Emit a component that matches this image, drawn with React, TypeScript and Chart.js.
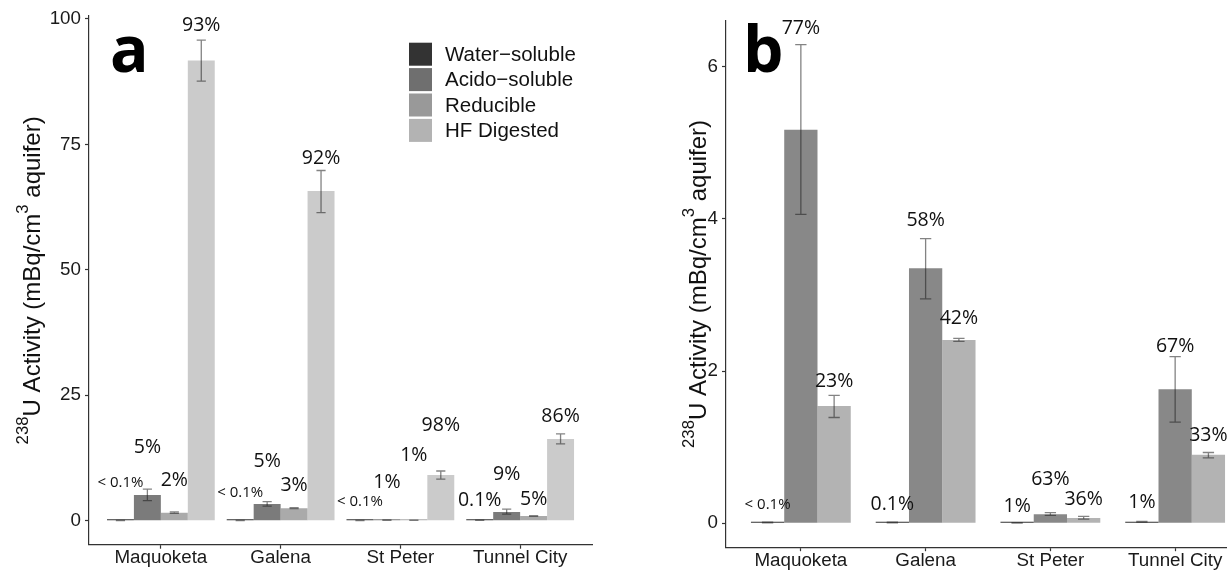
import React, { useEffect, useRef } from "react";
import { Chart, registerables } from "chart.js";
Chart.register(...registerables);

const categories = ["Maquoketa", "Galena", "St Peter", "Tunnel City"];
const fractionNames = ["Water\u2212soluble", "Acido\u2212soluble", "Reducible", "HF Digested"];
const legendColors = ["#333333", "#6f6f6f", "#999999", "#b3b3b3"];

// ---- Panel a (all four fractions) ----
const yTicksA = [0, 25, 50, 75, 100];
const yRangeA = [-4.79, 100.59];
const barColorsA = ["#333333", "#7b7b7b", "#aaaaaa", "#cbcbcb"];

const waterA = [0.05, 0.05, 0.05, 0.08];
const waterALow = [0.03, 0.03, 0.03, 0.05];
const waterAHigh = [0.07, 0.07, 0.07, 0.11];
const waterALabels = ["< 0.1%", "< 0.1%", "< 0.1%", "0.1%"];
const waterALabelAt = [7.5, 5.6, 3.7, 4.1];

const acidoA = [5.1, 3.3, 0.1, 1.74];
const acidoALow = [4.0, 2.9, 0.06, 1.3];
const acidoAHigh = [6.3, 3.8, 0.14, 2.3];
const acidoALabels = ["5%", "5%", "1%", "9%"];
const acidoALabelAt = [14.5, 11.8, 7.6, 9.3];

const reducibleA = [1.6, 2.5, 0.08, 0.94];
const reducibleALow = [1.45, 2.4, 0.05, 0.86];
const reducibleAHigh = [1.75, 2.6, 0.11, 1.02];
const reducibleALabels = ["2%", "3%", "1%", "5%"];
const reducibleALabelAt = [8.1, 7.1, 13.1, 4.3];

const hfA = [91.7, 65.7, 9.1, 16.3];
const hfALow = [87.6, 61.4, 8.3, 15.3];
const hfAHigh = [95.8, 69.8, 9.9, 17.3];
const hfALabels = ["93%", "92%", "98%", "86%"];
const hfALabelAt = [98.7, 72.1, 18.9, 20.8];

// ---- Panel b (three leachable fractions) ----
const yTicksB = [0, 2, 4, 6];
const yRangeB = [-0.3145, 6.6045];
const barColorsB = ["#333333", "#888888", "#b3b3b3"];

const waterB = [0.01, 0.01, 0.005, 0.02];
const waterBLow = [0.005, 0.005, 0.002, 0.015];
const waterBHigh = [0.015, 0.015, 0.008, 0.025];
const waterBLabels = ["< 0.1%", "0.1%", "1%", "1%"];
const waterBLabelAt = [0.24, 0.25, 0.22, 0.28];

const acidoB = [5.17, 3.35, 0.12, 1.76];
const acidoBLow = [4.06, 2.95, 0.105, 1.33];
const acidoBHigh = [6.29, 3.74, 0.14, 2.19];
const acidoBLabels = ["77%", "58%", "63%", "67%"];
const acidoBLabelAt = [6.5, 3.98, 0.57, 2.32];

const reducibleB = [1.54, 2.41, 0.07, 0.9];
const reducibleBLow = [1.39, 2.39, 0.055, 0.86];
const reducibleBHigh = [1.68, 2.43, 0.09, 0.93];
const reducibleBLabels = ["23%", "42%", "36%", "33%"];
const reducibleBLabelAt = [1.86, 2.69, 0.31, 1.16];

const TICK_FONT = "'Liberation Sans', Arial, Helvetica, sans-serif";
const LABEL_FONT = "'Open Sans', 'Noto Sans', sans-serif";

type Series = {
  name: string;
  values: number[];
  low: number[];
  high: number[];
  labels: string[];
  labelAt: number[];
  color: string;
};

type Panel = {
  width: number;
  series: Series[];
  yTicks: number[];
  yRange: number[];
  catPct: number;
  yWidth: number;
  padRight: number;
  padTop: number;
  xHeight: number;
  titleX: number;
  letter: string;
  letterX: number;
  letterY: number;
  legend: boolean;
};

const panelA: Panel = {
  width: 610,
  series: [
    { name: fractionNames[0], values: waterA, low: waterALow, high: waterAHigh, labels: waterALabels, labelAt: waterALabelAt, color: barColorsA[0] },
    { name: fractionNames[1], values: acidoA, low: acidoALow, high: acidoAHigh, labels: acidoALabels, labelAt: acidoALabelAt, color: barColorsA[1] },
    { name: fractionNames[2], values: reducibleA, low: reducibleALow, high: reducibleAHigh, labels: reducibleALabels, labelAt: reducibleALabelAt, color: barColorsA[2] },
    { name: fractionNames[3], values: hfA, low: hfALow, high: hfAHigh, labels: hfALabels, labelAt: hfALabelAt, color: barColorsA[3] },
  ],
  yTicks: yTicksA,
  yRange: yRangeA,
  catPct: 0.9,
  yWidth: 89,
  padRight: 18,
  padTop: 16,
  xHeight: 26.3,
  titleX: 40,
  letter: "a",
  letterX: 110,
  letterY: 72,
  legend: true,
};

const panelB: Panel = {
  width: 660,
  series: [
    { name: fractionNames[0], values: waterB, low: waterBLow, high: waterBHigh, labels: waterBLabels, labelAt: waterBLabelAt, color: barColorsB[0] },
    { name: fractionNames[1], values: acidoB, low: acidoBLow, high: acidoBHigh, labels: acidoBLabels, labelAt: acidoBLabelAt, color: barColorsB[1] },
    { name: fractionNames[2], values: reducibleB, low: reducibleBLow, high: reducibleBHigh, labels: reducibleBLabels, labelAt: reducibleBLabelAt, color: barColorsB[2] },
  ],
  yTicks: yTicksB,
  yRange: yRangeB,
  catPct: 0.8,
  yWidth: 116,
  padRight: 20,
  padTop: 20.7,
  xHeight: 23.8,
  titleX: 96,
  letter: "b",
  letterX: 133,
  letterY: 72,
  legend: false,
};

function buildChart(canvas: HTMLCanvasElement, p: Panel) {
  const overlay = {
    id: "overlay",
    afterDatasetsDraw(chart: any) {
      const ctx = chart.ctx as CanvasRenderingContext2D;
      const y = chart.scales.y;
      // error bars
      p.series.forEach((s, d) => {
        const meta = chart.getDatasetMeta(d);
        meta.data.forEach((bar: any, i: number) => {
          const x = bar.x;
          const hw = bar.width * 0.17;
          const y1 = y.getPixelForValue(s.low[i]);
          const y2 = y.getPixelForValue(s.high[i]);
          ctx.save();
          ctx.strokeStyle = "rgba(30,30,30,0.55)";
          ctx.lineWidth = 1.3;
          ctx.beginPath();
          ctx.moveTo(x, y1);
          ctx.lineTo(x, y2);
          ctx.moveTo(x - hw, y1);
          ctx.lineTo(x + hw, y1);
          ctx.moveTo(x - hw, y2);
          ctx.lineTo(x + hw, y2);
          ctx.stroke();
          ctx.restore();
        });
      });
      // percentage labels
      p.series.forEach((s, d) => {
        const meta = chart.getDatasetMeta(d);
        meta.data.forEach((bar: any, i: number) => {
          const txt = s.labels[i];
          const small = txt.startsWith("<");
          ctx.save();
          ctx.font = `${small ? 15 : 19.5}px ${LABEL_FONT}`;
          ctx.fillStyle = "#111";
          ctx.textAlign = "center";
          ctx.textBaseline = "middle";
          ctx.fillText(txt, bar.x, y.getPixelForValue(s.labelAt[i]));
          ctx.restore();
        });
      });
    },
    afterDraw(chart: any) {
      const ctx = chart.ctx as CanvasRenderingContext2D;
      const area = chart.chartArea;
      // y-axis title with superscripts
      const size = 24;
      const supSize = size * 0.7;
      const parts: [string, boolean][] = [
        ["238", true],
        ["U Activity (mBq/cm", false],
        ["3", true],
        [" aquifer)", false],
      ];
      ctx.save();
      ctx.fillStyle = "#111";
      ctx.textBaseline = "alphabetic";
      ctx.textAlign = "left";
      const widths = parts.map(([t, sup]) => {
        ctx.font = `${sup ? supSize : size}px ${TICK_FONT}`;
        return ctx.measureText(t).width;
      });
      const total = widths.reduce((a, b) => a + b, 0);
      ctx.translate(p.titleX, (area.top + area.bottom) / 2);
      ctx.rotate(-Math.PI / 2);
      let x = -total / 2;
      parts.forEach(([t, sup], k) => {
        ctx.font = `${sup ? supSize : size}px ${TICK_FONT}`;
        ctx.fillText(t, x, sup ? -12.5 : 0);
        x += widths[k];
      });
      ctx.restore();

      // panel letter
      ctx.save();
      ctx.font = `bold 64px ${LABEL_FONT}`;
      ctx.fillStyle = "#000";
      ctx.textBaseline = "alphabetic";
      ctx.textAlign = "left";
      ctx.fillText(p.letter, p.letterX, p.letterY);
      ctx.restore();

      // legend
      if (p.legend) {
        ctx.save();
        const bx = 409;
        const by = 42.7;
        const box = 23;
        const pitch = 25.4;
        fractionNames.forEach((name, k) => {
          ctx.fillStyle = legendColors[k];
          ctx.fillRect(bx, by + k * pitch, box, box);
          ctx.fillStyle = "#111";
          ctx.font = `20.5px ${TICK_FONT}`;
          ctx.textBaseline = "middle";
          ctx.textAlign = "left";
          ctx.fillText(name, bx + 36, by + k * pitch + box / 2 + 1);
        });
        ctx.restore();
      }
    },
  };

  return new Chart(canvas, {
    type: "bar",
    data: {
      datasets: p.series.map((s) => ({
        label: s.name,
        data: s.values.map((v, i) => ({ x: i, y: v })),
        backgroundColor: s.color,
        borderWidth: 0,
        minBarLength: 1.5,
        categoryPercentage: p.catPct,
        barPercentage: 1,
      })),
    },
    options: {
      responsive: false,
      animation: false,
      devicePixelRatio: 1,
      layout: { padding: { left: 0, right: p.padRight, top: p.padTop, bottom: 0 } },
      plugins: { legend: { display: false }, tooltip: { enabled: false } },
      scales: {
        x: {
          type: "linear",
          min: -0.6,
          max: 3.6,
          offset: false,
          afterBuildTicks: (scale: any) => {
            scale.ticks = categories.map((_, i) => ({ value: i }));
          },
          afterFit: (scale: any) => {
            scale.height = p.xHeight;
          },
          ticks: {
            autoSkip: false,
            maxRotation: 0,
            padding: 0,
            color: "#1a1a1a",
            font: { family: TICK_FONT, size: 18.8, lineHeight: 1 },
            callback: (v: any) => categories[Math.round(Number(v))] ?? "",
          },
          grid: {
            offset: false,
            drawOnChartArea: false,
            drawTicks: true,
            tickLength: 4,
            tickColor: "#333",
            tickWidth: 1.2,
          },
          border: { display: true, color: "#333", width: 1.2 },
        },
        y: {
          type: "linear",
          min: p.yRange[0],
          max: p.yRange[1],
          afterBuildTicks: (scale: any) => {
            scale.ticks = p.yTicks.map((v) => ({ value: v }));
          },
          afterFit: (scale: any) => {
            scale.width = p.yWidth;
          },
          ticks: {
            padding: 4,
            color: "#1a1a1a",
            font: { family: TICK_FONT, size: 18.8, lineHeight: 1 },
            callback: (v: any) => String(v),
          },
          grid: {
            drawOnChartArea: false,
            drawTicks: true,
            tickLength: 4,
            tickColor: "#333",
            tickWidth: 1.2,
          },
          border: { display: true, color: "#333", width: 1.2 },
        },
      },
    },
    plugins: [overlay],
  } as any);
}

export default function App() {
  const refA = useRef<HTMLCanvasElement>(null);
  const refB = useRef<HTMLCanvasElement>(null);
  useEffect(() => {
    const a = buildChart(refA.current!, panelA);
    const b = buildChart(refB.current!, panelB);
    return () => {
      a.destroy();
      b.destroy();
    };
  }, []);
  return (
    <div
      style={{
        position: "fixed",
        left: 0,
        top: 0,
        width: 1227,
        height: 571,
        overflow: "hidden",
        background: "#fff",
      }}
    >
      <canvas
        ref={refA}
        width={panelA.width}
        height={571}
        style={{ position: "absolute", left: 0, top: 0, width: panelA.width, height: 571 }}
      />
      <canvas
        ref={refB}
        width={panelB.width}
        height={571}
        style={{ position: "absolute", left: 610, top: 0, width: panelB.width, height: 571 }}
      />
    </div>
  );
}
